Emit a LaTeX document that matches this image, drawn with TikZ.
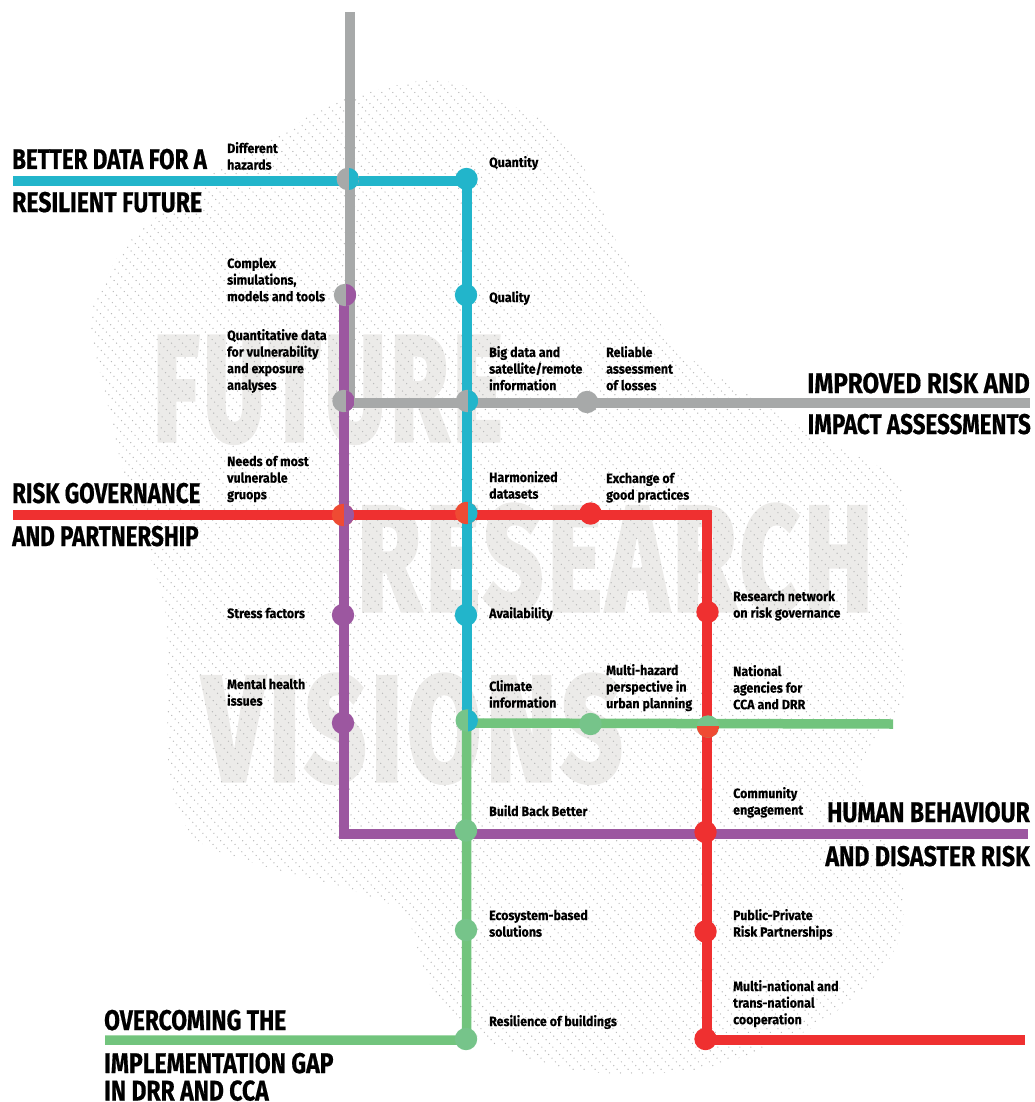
\documentclass[tikz,border=0pt]{standalone}
\usepackage{fontspec}
\setmainfont{Fira Sans}
\newfontfamily\headfont[FakeStretch=0.785,FakeBold=0.5]{Fira Sans}
\newfontfamily\labfont[FakeStretch=0.92,FakeBold=0.35]{Fira Sans}
\newfontfamily\bigfont[FakeBold=3.5,LetterSpace=5]{Fira Sans}
\usepackage{graphicx}
\pgfdeclarelayer{backdrop}
\pgfdeclarelayer{lines}
\pgfsetlayers{backdrop,lines,main}
\definecolor{lcyan}{HTML}{22B5CB}
\definecolor{lgrey}{HTML}{A7A9A9}
\definecolor{lpurple}{HTML}{9C57A0}
\definecolor{lred}{HTML}{EF3030}
\definecolor{lorange}{HTML}{EF4B33}
\definecolor{lgreen}{HTML}{72C47D}
\definecolor{sgreen}{HTML}{76C48A}
\definecolor{bigtext}{HTML}{ECEBE9}
\definecolor{hatch}{HTML}{B8B8B8}
\newcommand\lab[1]{\begin{tabular}[t]{@{}l@{}}#1\end{tabular}}
\newcommand\wide[2]{\scalebox{#1}[1]{#2}}
\tikzset{
  station/.style={circle,inner sep=0pt,minimum size=22.4pt,fill=#1},
  splitv/.style n args={3}{station=#1,path picture={\fill[#2] ([xshift=#3pt]path picture bounding box.south) rectangle (path picture bounding box.north east);}},
  splith/.style n args={3}{station=#1,path picture={\fill[#2] ([yshift=#3pt]path picture bounding box.west) rectangle (path picture bounding box.south east);}},
  metro/.style={line width=#1,line cap=butt,line join=miter},
  metro/.default=10pt,
  heading/.style={inner sep=0pt,anchor=base west,font=\headfont\bfseries\fontsize{28.5}{32}\selectfont,text=black},
  headingr/.style={heading,anchor=base east},
  label/.style={inner sep=0pt,anchor=base west,font=\labfont\bfseries\fontsize{13.5}{16.6}\selectfont,text=black},
  bigword/.style={inner sep=0pt,anchor=base west,text=bigtext,font=\bigfont\bfseries}
}
\begin{document}
\begin{tikzpicture}[x=1pt,y=-1pt]
\useasboundingbox (0,0) rectangle (1035,1102);
\begin{pgfonlayer}{backdrop}
\node[bigword] (wFuture) at (153,440) {\resizebox{349pt}{103pt}{FUTURE}};
\node[bigword] (wResearch) at (357,610) {\resizebox{515pt}{105pt}{RESEARCH}};
\node[bigword] (wVisions) at (203,780) {\resizebox{419pt}{105pt}{VISIONS}};
\begin{scope}
\clip plot[smooth cycle,tension=0.5] coordinates {(413,82)(455,83)(505,103)(554,127)(585,170)(605,217)(635,277)(677,347)(745,393)(822,440)(894,477)(909,537)(900,600)(903,700)(860,770)(900,870)(900,939)(860,992)(800,1034)(700,1069)(600,1073)(533,1060)(460,1027)(433,990)(420,960)(400,910)(317,880)(267,867)(197,840)(170,780)(167,660)(163,600)(127,487)(113,427)(93,340)(93,307)(120,253)(153,220)(217,170)(277,137)(333,103)};
\foreach \o in {-1100,-1089,...,1000}
  \draw[hatch,line width=1pt,dash pattern=on 1pt off 4pt] (\o,0) -- ({\o+1100},1200);
\end{scope}
\end{pgfonlayer}
% stations
\node[splitv={lgrey}{lcyan}{1}] (sHazards) at (347.8,179) {};
\node[station=lcyan] (sQuantity) at (466.5,179) {};
\node[splitv={lgrey}{lpurple}{1}] (sComplex) at (345,295) {};
\node[station=lcyan] (sQuality) at (466,295) {};
\node[splitv={lgrey}{lpurple}{2}] (sQuantitative) at (343.5,401) {};
\node[splitv={lgrey}{lcyan}{1}] (sBigData) at (467,401) {};
\node[station=lgrey] (sReliable) at (587,402) {};
\node[splitv={lorange}{lpurple}{1}] (sNeeds) at (343,515) {};
\node[splitv={lorange}{lcyan}{2}] (sHarmonized) at (466.3,513) {};
\node[station=lred] (sExchange) at (590.5,513.5) {};
\node[station=lpurple] (sStress) at (343,615) {};
\node[station=lcyan] (sAvailability) at (466,615) {};
\node[station=lred] (sNetwork) at (707.5,612) {};
\node[station=lpurple] (sMental) at (343,723) {};
\node[splitv={sgreen}{lcyan}{1.7}] (sClimate) at (466.7,720.5) {};
\node[station=sgreen] (sMultiHazard) at (590.5,724) {};
\node[splith={sgreen}{lorange}{1}] (sNational) at (708,726.5) {};
\node[station=sgreen] (sBuild) at (466,830.5) {};
\node[station=lred] (sCommunity) at (705.5,832) {};
\node[station=sgreen] (sEco) at (466,930) {};
\node[station=lred] (sPublic) at (705.5,931.5) {};
\node[station=sgreen] (sResilience) at (466,1039) {};
\node[station=lred] (sMulti) at (705.5,1039) {};
% line ends and corners
\coordinate (gTop) at (349.5,12.5);
\coordinate (gEnd) at (1030,403);
\coordinate (cStart) at (13,181);
\coordinate (pTop) at (344,300);
\coordinate (pEnd) at (1028,834);
\coordinate (rStart) at (13,515);
\coordinate (rCorner) at (706.7,515);
\coordinate (rEnd) at (1025,1039.5);
\coordinate (nStart) at (105,1040);
\coordinate (nCorner) at (466.5,723);
\coordinate (nEnd) at (893,724);
\begin{pgfonlayer}{lines}
\draw[metro,lgrey] (gTop) -- (gTop |- gEnd) -- (gEnd);
\draw[metro,lcyan] (cStart) -- (cStart -| sQuantity) -- (sQuantity.center |- sClimate);
\draw[metro,lpurple] (pTop) -- (pTop |- pEnd) -- (pEnd);
\draw[metro,lred] (rStart) -- (rCorner) -- (rCorner |- rEnd) -- (rEnd);
\draw[metro=9.5pt,lgreen] (nStart) -- (nStart -| nCorner) -- (nCorner) -- (nEnd);
\end{pgfonlayer}
% headings
\node[heading] (hData1) at (12,169) {BETTER DATA FOR A};
\node[heading] (hData2) at (12,212) {\wide{1.03}{RESILIENT FUTURE}};
\node[heading] (hGov1) at (12,503) {RISK GOVERNANCE};
\node[heading] (hGov2) at (12,546) {AND PARTNERSHIP};
\node[headingr] (hRisk1) at (1030,393) {\wide{1.08}{IMPROVED RISK AND}};
\node[headingr] (hRisk2) at (1031,434) {IMPACT ASSESSMENTS};
\node[headingr] (hHuman1) at (1030,822) {\wide{1.03}{HUMAN BEHAVIOUR}};
\node[headingr] (hHuman2) at (1030,866) {\wide{1.035}{AND DISASTER RISK}};
\node[heading] (hImpl1) at (104,1030) {\wide{1.02}{OVERCOMING THE}};
\node[heading] (hImpl2) at (104,1073) {\wide{1.027}{IMPLEMENTATION GAP}};
\node[heading] (hImpl3) at (104,1100.5) {\wide{1.025}{IN DRR AND CCA}};
% labels
\node[label] (lHazards) at (227,153) {\lab{Different\\hazards}};
\node[label] (lComplex) at (227,268) {\lab{Complex\\simulations,\\models and tools}};
\node[label] (lQuant) at (227,340) {\lab{Quantitative data\\for vulnerability\\and exposure\\analyses}};
\node[label] (lNeeds) at (227,466) {\lab{Needs of most\\vulnerable\\gruops}};
\node[label] (lStress) at (227,618) {Stress factors};
\node[label] (lMental) at (227,689) {\lab{Mental health\\issues}};
\node[label] (lQuantity) at (489,167) {Quantity};
\node[label] (lQuality) at (489,302) {Quality};
\node[label] (lBig) at (489,357) {\lab{Big data and\\satellite/remote\\information}};
\node[label] (lHarm) at (489,482) {\lab{Harmonized\\datasets}};
\node[label] (lAvail) at (489,618) {Availability};
\node[label] (lClimate) at (489,691) {\lab{Climate\\information}};
\node[label] (lBuild) at (489,816) {Build Back Better};
\node[label] (lEco) at (489,920) {\lab{Ecosystem-based\\solutions}};
\node[label] (lRes) at (489,1026) {Resilience of buildings};
\node[label] (lReliable) at (606,357) {\lab{Reliable\\assessment\\of losses}};
\node[label] (lExchange) at (606,483) {\lab{Exchange of\\good practices}};
\node[label] (lMultiHaz) at (606,675) {\lab{Multi-hazard\\perspective in\\urban planning}};
\node[label] (lNetwork) at (733,601) {\lab{Research network\\on risk governance}};
\node[label] (lNational) at (733,676) {\lab{National\\agencies for\\CCA and DRR}};
\node[label] (lCommunity) at (733,798) {\lab{Community\\engagement}};
\node[label] (lPublic) at (733,920) {\lab{Public-Private\\Risk Partnerships}};
\node[label] (lMultiNat) at (733,991) {\lab{Multi-national and\\trans-national\\cooperation}};
\end{tikzpicture}
\end{document}
